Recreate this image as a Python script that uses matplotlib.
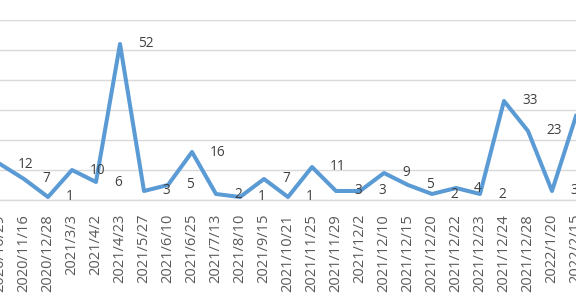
import matplotlib.pyplot as plt

plt.rcParams['font.family'] = ['Open Sans', 'DejaVu Sans']

# 数据（首尾两个点在截图外，只露出一部分）
dates = ['2020/10/29', '2020/11/16', '2020/12/28', '2021/3/3', '2021/4/2', '2021/4/23',
         '2021/5/27', '2021/6/10', '2021/6/25', '2021/7/13', '2021/8/10', '2021/9/15',
         '2021/10/21', '2021/11/25', '2021/11/29', '2021/12/2', '2021/12/10', '2021/12/15',
         '2021/12/20', '2021/12/22', '2021/12/23', '2021/12/24', '2021/12/28', '2022/1/20',
         '2022/2/15']
counts = [12, 7, 1, 10, 6, 52, 3, 5, 16, 2, 1, 7, 1, 11, 3, 3, 9, 5, 2, 4, 2, 33, 23, 3, 28]

fig = plt.figure(figsize=(5.76, 3.02), dpi=100)
ax = fig.add_axes([0, 102 / 302, 1, 180 / 302])

x = list(range(len(dates)))
ax.plot(x, counts, color='#5B9BD5', linewidth=2.9, solid_joinstyle='round', zorder=3)

# 数据标签放在点的右侧
for xi, v in zip(x, counts):
    ax.annotate(str(v), (xi, v), xytext=(18, 0), textcoords='offset pixels',
                ha='left', va='center', fontsize=9.8, color='#404040',
                annotation_clip=False)

ax.set_xlim(0.39, 23.77)
ax.set_ylim(0, 60)
ax.set_yticks(range(0, 61, 10))
ax.yaxis.grid(True, color='#d9d9d9', linewidth=1.0)
ax.set_axisbelow(True)
ax.tick_params(axis='y', left=False, labelleft=False)
ax.set_xticks(x)
ax.set_xticklabels(dates, rotation=90, fontsize=10.5, color='#595959')
ax.tick_params(axis='x', length=0, pad=10)
for s in ['top', 'left', 'right']:
    ax.spines[s].set_visible(False)
ax.spines['bottom'].set_color('#d9d9d9')
ax.spines['bottom'].set_linewidth(1.0)

plt.savefig('out.png', dpi=100)
